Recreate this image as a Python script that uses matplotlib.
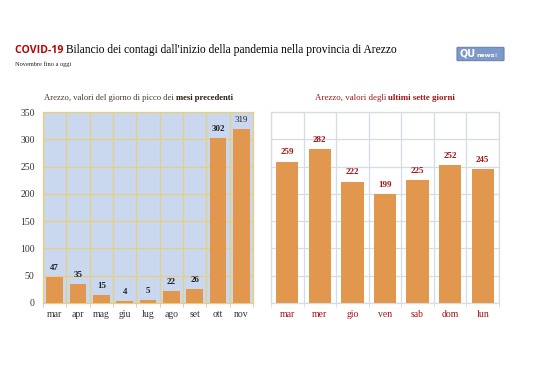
import matplotlib
matplotlib.use("Agg")
import matplotlib.pyplot as plt
from matplotlib.patches import FancyBboxPatch
import numpy as np

# dati
mesi = ["mar", "apr", "mag", "giu", "lug", "ago", "set", "ott", "nov"]
picco_mesi = [47, 35, 15, 4, 5, 22, 26, 302, 319]
giorni = ["mar", "mer", "gio", "ven", "sab", "dom", "lun"]
ultimi_giorni = [259, 282, 222, 199, 225, 252, 245]

serif = "Liberation Serif"
orange = "#E2974E"
darkred = "#A31515"

fig = plt.figure(figsize=(5.38, 3.80), dpi=100)
fig.patch.set_facecolor("white")

# ---- pannello sinistro
ax1 = fig.add_axes([43/538, 77/380, 210/538, 191/380])
ax1.set_facecolor("#C9D8EF")
x1 = np.arange(len(mesi))
ax1.bar(x1, picco_mesi, width=0.72, color=orange, zorder=3)
ax1.set_xlim(-0.5, len(mesi) - 0.5)
ax1.set_ylim(0, 350)
ax1.set_yticks(range(0, 351, 50))
ax1.set_xticks(x1)
ax1.set_xticklabels(mesi, family=serif, fontsize=7, color="#333333")
ax1.set_xticks(np.arange(-0.5, len(mesi), 1), minor=True)
ax1.grid(axis="y", color="#E8CF7D", lw=0.9, zorder=1)
ax1.grid(axis="x", which="minor", color="#E8CF7D", lw=0.9, zorder=1)
ax1.tick_params(axis="x", which="major", length=0, pad=5)
ax1.tick_params(axis="x", which="minor", length=3, color="#C8C8C8")
ax1.tick_params(axis="y", length=0, pad=6, labelsize=7, labelcolor="#333333")
for lab in ax1.get_yticklabels():
    lab.set_family(serif)
for s in ax1.spines.values():
    s.set_color("#E8CF7D")
    s.set_linewidth(0.9)
for i, v in enumerate(picco_mesi):
    ax1.annotate(str(v), (i, v), xytext=(0, 3.5), textcoords="offset points",
                 ha="center", va="bottom", family=serif, fontsize=6.5,
                 fontweight="normal" if i == 8 else "bold", color="#222222")

# ---- pannello destro
ax2 = fig.add_axes([271/538, 77/380, 228/538, 191/380])
ax2.set_facecolor("white")
x2 = np.arange(len(giorni))
ax2.bar(x2, ultimi_giorni, width=0.68, color=orange, zorder=3)
ax2.set_xlim(-0.5, len(giorni) - 0.5)
ax2.set_ylim(0, 350)
ax2.set_yticks(range(0, 351, 50))
ax2.set_yticklabels([])
ax2.set_xticks(x2)
ax2.set_xticklabels(giorni, family=serif, fontsize=7, color=darkred)
ax2.set_xticks(np.arange(-0.5, len(giorni), 1), minor=True)
ax2.grid(axis="y", color="#D6DCE4", lw=0.9, zorder=1)
ax2.grid(axis="x", which="minor", color="#D6DCE4", lw=0.9, zorder=1)
ax2.tick_params(axis="x", which="major", length=0, pad=5)
ax2.tick_params(axis="x", which="minor", length=3, color="#D6DCE4")
ax2.tick_params(axis="y", length=0)
for s in ax2.spines.values():
    s.set_color("#D6DCE4")
    s.set_linewidth(0.9)
for i, v in enumerate(ultimi_giorni):
    ax2.annotate(str(v), (i, v), xytext=(0, 4), textcoords="offset points",
                 ha="center", va="bottom", family=serif, fontsize=6.5,
                 fontweight="bold", color=darkred)

renderer = fig.canvas.get_renderer()


def testo_misto(parti, x, y, ha="left"):
    # parti: lista di (testo, kwargs), scritte una dopo l'altra
    items = []
    for t, kw in parti:
        items.append(fig.text(0, y, t, va="baseline", transform=None, **kw))
    larg = [it.get_window_extent(renderer).width for it in items]
    start = x - sum(larg) / 2 if ha == "center" else x
    for it, w in zip(items, larg):
        it.set_x(start)
        start += w


H = 380
testo_misto([("COVID-19 ", dict(family="Open Sans", fontweight="bold", fontsize=7.6, color="#C00000")),
             ("Bilancio dei contagi dall'inizio della pandemia nella provincia di Arezzo",
              dict(family=serif, fontsize=8.3, color="black"))], 15, H - 53)
fig.text(15, H - 66, "Novembre fino a oggi", transform=None, family=serif,
         fontsize=4.6, color="#222222", va="baseline")

testo_misto([("Arezzo, valori del giorno di picco dei ", dict(family=serif, fontsize=6.2, color="#4A3B2A")),
             ("mesi precedenti", dict(family=serif, fontsize=6.2, color="#2A1E10", fontweight="bold"))],
            139, H - 100, ha="center")
testo_misto([("Arezzo, valori degli ", dict(family=serif, fontsize=6.4, color=darkred)),
             ("ultimi sette giorni", dict(family=serif, fontsize=6.4, color=darkred, fontweight="bold"))],
            385, H - 100, ha="center")

# logo
logo = FancyBboxPatch((458/538, (H - 60)/H), 45/538, 12/H, boxstyle="round,pad=0.002",
                      transform=fig.transFigure, fc="#7E98C9", ec="#5A74A8", lw=0.6)
fig.patches.append(logo)
testo_misto([("QU", dict(family="DejaVu Sans", fontweight="bold", fontsize=7, color="white")),
             ("news", dict(family="DejaVu Sans", fontweight="bold", fontsize=4.6, color="white")),
             ("it", dict(family="DejaVu Sans", fontsize=4, color="#C9D8EF"))],
            460, H - 57)

fig.savefig("out.png", dpi=100)
